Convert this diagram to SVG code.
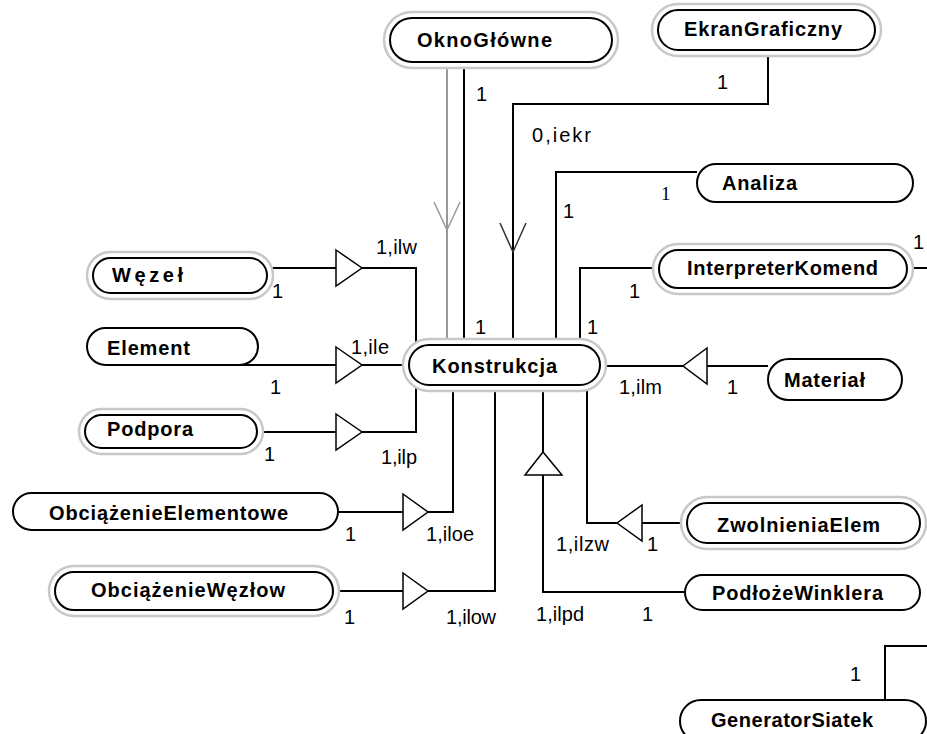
<svg xmlns="http://www.w3.org/2000/svg" width="927" height="734" viewBox="0 0 927 734">
  <style>
    .ln { fill: none; stroke: #000; stroke-width: 2; }
    .gln { fill: none; stroke: #999; stroke-width: 2; }
    .tri { fill: #fff; stroke: #000; stroke-width: 1.5; }
    .node { fill: #fff; stroke: #000; stroke-width: 2; }
    .halo { fill: #fff; stroke: #c8c8c8; stroke-width: 2.5; }
    .name { font-family: "Liberation Sans", Arial, sans-serif; font-weight: bold; font-size: 20px; fill: #000; }
    .lbl { font-family: "Liberation Sans", Arial, sans-serif; font-size: 20px; fill: #000; }
    .ser { font-family: "Liberation Serif", "Times New Roman", serif; font-size: 19px; fill: #000; }
  </style>
  <rect width="927" height="734" fill="#fff"/>

  <g id="connectors">
    <!-- aggregations into Konstrukcja from the left -->
    <polyline class="ln" points="267,268 336,268"/>
    <polyline class="ln" points="362,268 416,268 416,432 362,432"/>
    <polyline class="ln" points="240,365 336,365"/>
    <polyline class="ln" points="362,365 409,365"/>
    <polyline class="ln" points="257,432 336,432"/>
    <polyline class="ln" points="338,512 403,512"/>
    <polyline class="ln" points="428,512 453,512 453,385"/>
    <polyline class="ln" points="333,591 403,591"/>
    <polyline class="ln" points="428,591 495,591 495,385"/>
    <!-- from the right and below -->
    <polyline class="ln" points="685,592 543,592 543,475"/>
    <polyline class="ln" points="543,452 543,385"/>
    <polyline class="ln" points="687,523 642,523"/>
    <polyline class="ln" points="617,523 587,523 587,385"/>
    <polyline class="ln" points="768,366 707,366"/>
    <polyline class="ln" points="683,366 600,366"/>
    <!-- top associations -->
    <polyline class="gln" points="447,68 447,345"/>
    <polyline class="ln" points="464,62 464,345"/>
    <polyline class="ln" points="768,50 768,104 513,104 513,345"/>
    <polyline class="ln" points="697,172 556,172 556,345"/>
    <polyline class="ln" points="659,268 580,268 580,345"/>
    <polyline class="ln" points="907,268 927,268"/>
    <polyline class="ln" points="885,700 885,646 927,646"/>

    <!-- aggregation diamonds drawn as open triangles -->
    <polygon class="tri" points="336,250 362,268 336,286"/>
    <polygon class="tri" points="336,347 362,365 336,383"/>
    <polygon class="tri" points="336,414 362,432 336,450"/>
    <polygon class="tri" points="403,494 428,512 403,530"/>
    <polygon class="tri" points="403,573 428,591 403,609"/>
    <polygon class="tri" points="707,348 683,366 707,384"/>
    <polygon class="tri" points="642,505 617,523 642,541"/>
    <polygon class="tri" points="525,475 543,452 562,475"/>

    <!-- navigation arrowheads -->
    <polyline class="gln" style="stroke-width:1.5" points="434,202 447,230 460,202"/>
    <polyline class="ln" style="stroke:#333;stroke-width:1.5" points="500,223 513,252 526,223"/>

    <!-- multiplicities -->
    <text class="lbl" x="476" y="101">1</text>
    <text class="lbl" x="475" y="334">1</text>
    <text class="lbl" x="717" y="89">1</text>
    <text class="lbl" x="532" y="142" textLength="59">0,iekr</text>
    <text class="ser" x="661" y="200">1</text>
    <text class="lbl" x="563" y="218">1</text>
    <text class="lbl" x="913" y="249">1</text>
    <text class="lbl" x="629" y="298">1</text>
    <text class="lbl" x="587" y="334">1</text>
    <text class="lbl" x="376" y="254" textLength="41">1,ilw</text>
    <text class="lbl" x="272" y="298">1</text>
    <text class="lbl" x="351" y="354" textLength="38">1,ile</text>
    <text class="lbl" x="270" y="394">1</text>
    <text class="lbl" x="381" y="464" textLength="36">1,ilp</text>
    <text class="lbl" x="264" y="461">1</text>
    <text class="lbl" x="345" y="541">1</text>
    <text class="lbl" x="426" y="541" textLength="48">1,iloe</text>
    <text class="lbl" x="344" y="624">1</text>
    <text class="lbl" x="446" y="624" textLength="50">1,ilow</text>
    <text class="lbl" x="619" y="394" textLength="43">1,ilm</text>
    <text class="lbl" x="727" y="394">1</text>
    <text class="lbl" x="556" y="551" textLength="53">1,ilzw</text>
    <text class="lbl" x="647" y="551">1</text>
    <text class="lbl" x="536" y="621" textLength="48">1,ilpd</text>
    <text class="lbl" x="642" y="621">1</text>
    <text class="lbl" x="850" y="681">1</text>
  </g>

  <g id="OknoGlowne">
    <rect class="halo" x="384" y="12" width="234" height="56" rx="28"/>
    <rect class="node" x="390" y="18" width="222" height="44" rx="22"/>
    <text class="name" x="417" y="47" textLength="135">OknoGłówne</text>
  </g>
  <g id="EkranGraficzny">
    <rect class="halo" x="652" y="4" width="229" height="52" rx="26"/>
    <rect class="node" x="658" y="10" width="217" height="40" rx="20"/>
    <text class="name" x="684" y="36" textLength="158">EkranGraficzny</text>
  </g>
  <g id="Analiza">
    <rect class="node" x="697" y="164" width="216" height="38" rx="19"/>
    <text class="name" x="722" y="190" textLength="75">Analiza</text>
  </g>
  <g id="InterpreterKomend">
    <rect class="halo" x="653" y="244" width="260" height="50" rx="25"/>
    <rect class="node" x="659" y="250" width="248" height="38" rx="19"/>
    <text class="name" x="687" y="275" textLength="191">InterpreterKomend</text>
  </g>
  <g id="Material">
    <rect class="node" x="768" y="359" width="134" height="41" rx="20.5"/>
    <text class="name" x="784" y="387" textLength="81">Materiał</text>
  </g>
  <g id="Konstrukcja">
    <rect class="halo" x="403" y="339" width="203" height="52" rx="26"/>
    <rect class="node" x="409" y="345" width="191" height="40" rx="20"/>
    <text class="name" x="432" y="373" textLength="125">Konstrukcja</text>
  </g>
  <g id="Wezel">
    <rect class="halo" x="87" y="252" width="186" height="47" rx="23.5"/>
    <rect class="node" x="93" y="258" width="174" height="35" rx="17.5"/>
    <text class="name" x="112" y="282" textLength="71">Węzeł</text>
  </g>
  <g id="Element">
    <rect class="node" x="87" y="328" width="171" height="37" rx="18.5"/>
    <text class="name" x="107" y="355" textLength="83">Element</text>
  </g>
  <g id="Podpora">
    <rect class="halo" x="79" y="409" width="184" height="45" rx="22.5"/>
    <rect class="node" x="85" y="415" width="172" height="33" rx="16.5"/>
    <text class="name" x="107" y="436" textLength="86">Podpora</text>
  </g>
  <g id="ObciazenieElementowe">
    <rect class="node" x="13" y="493" width="325" height="37" rx="18.5"/>
    <text class="name" x="49" y="520" textLength="239">ObciążenieElementowe</text>
  </g>
  <g id="ObciazenieWezlow">
    <rect class="halo" x="49" y="566" width="290" height="50" rx="25"/>
    <rect class="node" x="55" y="572" width="278" height="38" rx="19"/>
    <text class="name" x="91" y="597" textLength="194">ObciążenieWęzłow</text>
  </g>
  <g id="ZwolnieniaElem">
    <rect class="halo" x="681" y="497" width="245" height="52" rx="26"/>
    <rect class="node" x="687" y="503" width="233" height="40" rx="20"/>
    <text class="name" x="717" y="532" textLength="163">ZwolnieniaElem</text>
  </g>
  <g id="PodlozeWinklera">
    <rect class="node" x="685" y="575" width="235" height="35" rx="17.5"/>
    <text class="name" x="712" y="600" textLength="171">PodłożeWinklera</text>
  </g>
  <g id="GeneratorSiatek">
    <rect class="node" x="680" y="700" width="246" height="42" rx="21"/>
    <text class="name" x="711" y="727" textLength="162">GeneratorSiatek</text>
  </g>
</svg>
